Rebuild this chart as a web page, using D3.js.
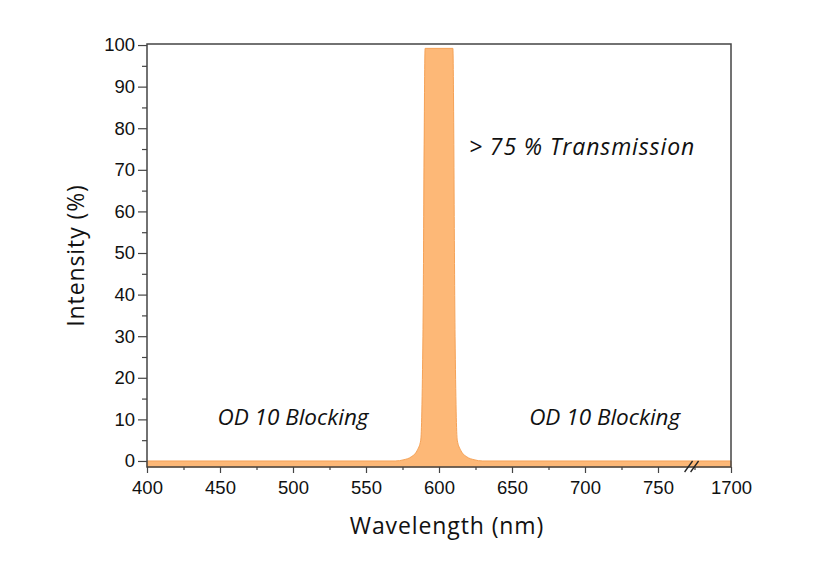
<!DOCTYPE html>
<html><head><meta charset="utf-8">
<script src="https://cdn.jsdelivr.net/npm/d3@7"></script>
<style>body{margin:0;background:#fff}</style>
</head><body>
<svg id="c" width="836" height="575"></svg>
<script>
const wavelength = [400, 570, 576, 581, 585, 587.5, 589, 590.5, 609.5, 611, 612.5, 615, 619, 624, 630, 800];
const intensity  = [0, 0, 0.3, 1, 2.5, 5, 30, 99.2, 99.2, 30, 5, 2.5, 1, 0.3, 0, 0];
const xTicks = [400, 450, 500, 550, 600, 650, 700, 750, 800];
const xTickLabels = ["400", "450", "500", "550", "600", "650", "700", "750", "1700"];
const yTicks = [0, 10, 20, 30, 40, 50, 60, 70, 80, 90, 100];
const annotations = [
  {text: "OD 10 Blocking", wl: 500, val: 8.6},
  {text: "OD 10 Blocking", wl: 713.5, val: 8.6},
  {text: "> 75 % Transmission", wl: 620.5, val: 73.6, anchor: "start"}
];

const svg = d3.select("#c");
const m = {l: 147, r: 731, t: 44, b: 467};
const x = d3.scaleLinear().domain([400, 800]).range([m.l, m.r]);
const y = d3.scaleLinear().domain([-1.45, 100.25]).range([m.b, m.t]);
const axisColor = "#444";

// area
const data = wavelength.map((w, i) => ({w, v: intensity[i]}));
const area = d3.area().x(d => x(d.w)).y0(y(-1.45)).y1(d => y(d.v)).curve(d3.curveMonotoneX);
svg.append("path").datum(data).attr("d", area)
  .attr("fill", "#fdb877").attr("stroke", "#f5a257").attr("stroke-width", 1);

// frame
svg.append("rect").attr("x", m.l).attr("y", m.t).attr("width", m.r - m.l).attr("height", m.b - m.t)
  .attr("fill", "none").attr("stroke", axisColor).attr("stroke-width", 1.5);

const tickFont = "Liberation Sans, Arial, sans-serif";
// x axis
const xAxis = svg.append("g").attr("transform", `translate(0,${m.b})`)
  .call(d3.axisBottom(x).tickValues(xTicks).tickFormat((d, i) => xTickLabels[i]).tickSize(6).tickPadding(8));
xAxis.select(".domain").remove();
xAxis.selectAll("line").attr("stroke", axisColor).attr("stroke-width", 1.2);
xAxis.selectAll("text").attr("font-family", tickFont).attr("font-size", 18.5).attr("fill", "#111");
const xMinor = svg.append("g").attr("transform", `translate(0,${m.b})`)
  .call(d3.axisBottom(x).tickValues(d3.range(425, 800, 50)).tickFormat("").tickSize(3));
xMinor.select(".domain").remove();
xMinor.selectAll("line").attr("stroke", axisColor).attr("stroke-width", 1.2);

// y axis
const yAxis = svg.append("g").attr("transform", `translate(${m.l},0)`)
  .call(d3.axisLeft(y).tickValues(yTicks).tickSize(9).tickPadding(3));
yAxis.select(".domain").remove();
yAxis.selectAll("line").attr("stroke", axisColor).attr("stroke-width", 1.2);
yAxis.selectAll("text").attr("font-family", tickFont).attr("font-size", 18.5).attr("fill", "#111");
const yMinor = svg.append("g").attr("transform", `translate(${m.l},0)`)
  .call(d3.axisLeft(y).tickValues(d3.range(5, 100, 10)).tickFormat("").tickSize(5));
yMinor.select(".domain").remove();
yMinor.selectAll("line").attr("stroke", axisColor).attr("stroke-width", 1.2);

// axis break
const bx = x(773);
[-3, 3].forEach(dx => {
  svg.append("line").attr("x1", bx + dx - 4).attr("y1", m.b + 5).attr("x2", bx + dx + 4).attr("y2", m.b - 6)
    .attr("stroke", "#222").attr("stroke-width", 1.3);
});

// titles
svg.append("text").attr("x", 447).attr("y", 534).attr("text-anchor", "middle")
  .attr("font-family", "Open Sans, sans-serif").attr("font-size", 23).attr("letter-spacing", 0.9)
  .attr("fill", "#111").text("Wavelength (nm)");
svg.append("text").attr("transform", `translate(84,${(m.t + m.b) / 2}) rotate(-90)`).attr("text-anchor", "middle")
  .attr("font-family", "Open Sans, sans-serif").attr("font-size", 23).attr("letter-spacing", 0.9)
  .attr("fill", "#111").text("Intensity (%)");

annotations.forEach(a => {
  svg.append("text").attr("x", x(a.wl)).attr("y", y(a.val)).attr("text-anchor", a.anchor || "middle")
    .attr("font-family", "Open Sans, sans-serif").attr("font-style", "italic")
    .attr("font-size", a.anchor ? 23 : 22.5)
    .attr("letter-spacing", a.anchor ? 0.9 : 0).attr("fill", "#111")
    .text(a.text);
});
</script>
</body></html>
